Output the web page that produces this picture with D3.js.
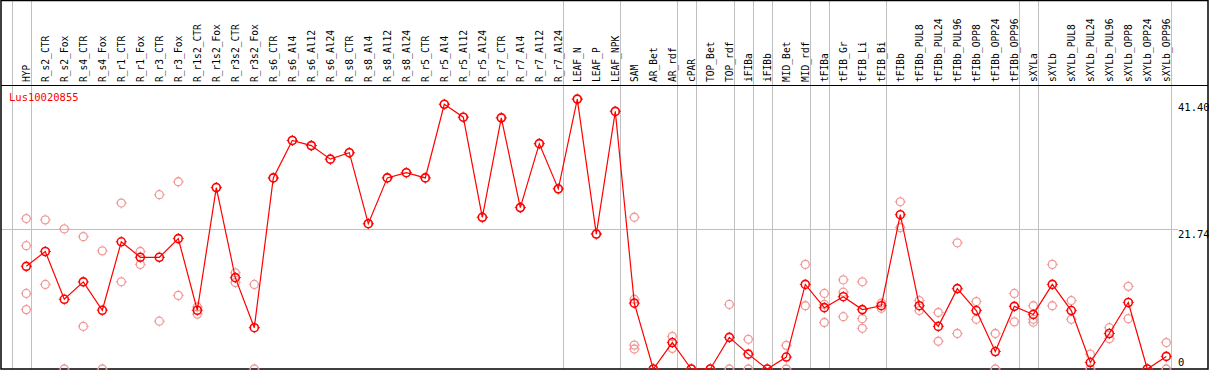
<!doctype html>
<html lang="en">
<head>
  <meta charset="utf-8">
  <script src="https://d3js.org/d3.v7.min.js"></script>
  <style>
    body { margin: 0; background: #fff; }
    text { font-family: "DejaVu Sans Mono", monospace; }
  </style>
</head>
<body>
  <script>
    var width = 1209,
        height = 370;

    var title = "Lus10020855";

    // sample names (one column each)
    var categories = ["HYP","R_s2_CTR","R_s2_Fox","R_s4_CTR","R_s4_Fox","R_r1_CTR","R_r1_Fox",
      "R_r3_CTR","R_r3_Fox","R_r1s2_CTR","R_r1s2_Fox","R_r3s2_CTR","R_r3s2_Fox","R_s6_CTR",
      "R_s6_Al4","R_s6_Al12","R_s6_Al24","R_s8_CTR","R_s8_Al4","R_s8_Al12","R_s8_Al24",
      "R_r5_CTR","R_r5_Al4","R_r5_Al12","R_r5_Al24","R_r7_CTR","R_r7_Al4","R_r7_Al12","R_r7_Al24",
      "LEAF_N","LEAF_P","LEAF_NPK","SAM","AR_Bet","AR_rdf","cPAR","TOP_Bet","TOP_rdf","iFIBa",
      "iFIBb","MID_Bet","MID_rdf","tFIBa","tFIB_Gr","tFIB_Li","tFIB_Bi","tFIBb","tFIBb_PUL8",
      "tFIBb_PUL24","tFIBb_PUL96","tFIBb_OPP8","tFIBb_OPP24","tFIBb_OPP96","sXYLa","sXYLb",
      "sXYLb_PUL8","sXYLb_PUL24","sXYLb_PUL96","sXYLb_OPP8","sXYLb_OPP24","sXYLb_OPP96"];

    // mean expression per sample
    var means = [15.9,18.2,10.8,13.5,9.1,19.7,17.3,17.3,20.2,9.1,28.1,14.15,6.4,29.6,
      35.4,34.6,32.5,33.5,22.5,29.6,30.4,29.6,41.0,39.0,23.5,38.9,25.0,34.9,27.9,
      41.8,20.9,39.9,10.2,0,4.1,0,0,4.9,2.3,0,1.85,13.1,9.5,11.2,9.2,9.8,23.9,
      9.8,6.6,12.45,9.05,2.7,9.7,8.45,13.1,9.05,1.0,5.5,10.3,0,1.95];

    // replicate values per sample
    var replicates = [[23.3,19.1,11.7,9.2],[23.1,13.1],[21.7,0],[20.5,6.6],[18.3,0],[25.7,13.5],
      [18.2,16.2],[27.0,7.4],[29.0,11.4],[9.6,8.5],[28.1],[14.9,13.4],[13.1,0],[29.6],
      [35.4],[34.6],[32.5],[33.5],[22.5],[29.6],[30.4],[29.6],[41.0],[39.0],[23.5],[38.9],[25.0],[34.9],[27.9],
      [41.8],[20.9],[39.9],[23.5,10.8,3.7,3.1],[0],[5.05,3.2],[0],[0],[10.0,0],[4.6,0],[0],[3.66,0],
      [16.2,9.8],[11.7,10.0,7.2],[13.8,11.9,8.1],[13.5,7.8,6.3],[10.2,9.4],[25.9,21.9],
      [10.6,9.05],[8.75,4.3],[19.55,5.5],[10.45,7.7],[5.5,0],[11.7,7.3],[9.8,7.7,7.25],[16.2,9.8],
      [10.6,7.7],[2.3,0],[6.4,4.7],[12.8,7.8],[0],[4.1,0]];

    // vertical separators drawn after these sample indices
    var groupEnds = [-1,0,28,31,34,35,37,38,39,41,42,45,52,53,60];

    var tickValues = [41.40, 21.74, 0];
    var tickLabels = ["41.40", "21.74", "0"];

    var x = d3.scaleLinear()
        .domain([0, categories.length - 1])
        .range([26.3, 1166.3]);

    var y = d3.scaleLinear()
        .domain([0, 41.40])
        .range([369, 101.7]);

    var svg = d3.select("body")
                .append("svg")
                .attr("width", width)
                .attr("height", height);

    // grid: one horizontal line and group separators
    svg.append("line")
        .attr("x1", 1).attr("x2", 1178)
        .attr("y1", Math.round(y(21.74)) + 0.5).attr("y2", Math.round(y(21.74)) + 0.5)
        .attr("stroke", "#c0c0c0");

    svg.selectAll("line.sep")
        .data(groupEnds)
      .enter().append("line")
        .attr("class", "sep")
        .attr("x1", function(d){ return Math.round(x(d + 0.23)) + 0.5; })
        .attr("x2", function(d){ return Math.round(x(d + 0.23)) + 0.5; })
        .attr("y1", 0).attr("y2", 369)
        .attr("stroke", "#c0c0c0");

    // frame + header separator
    svg.append("rect")
        .attr("x", 1).attr("y", 0.5)
        .attr("width", 1207).attr("height", 368.5)
        .attr("fill", "none")
        .attr("stroke", "black")
        .attr("stroke-width", 1.5);
    svg.append("line")
        .attr("x1", 1).attr("x2", 1208)
        .attr("y1", 85.5).attr("y2", 85.5)
        .attr("stroke", "black");

    // column labels
    svg.selectAll("text.cat")
        .data(categories)
      .enter().append("text")
        .attr("class", "cat")
        .attr("transform", function(d, i){ return "translate(" + (x(i) + 3.8) + ",82) rotate(-90)"; })
        .attr("font-size", 9.6)
        .attr("fill", "black")
        .text(function(d){ return d; });

    // right value labels
    svg.selectAll("text.tick")
        .data(tickValues)
      .enter().append("text")
        .attr("class", "tick")
        .attr("x", 1178)
        .attr("y", function(d, i){ return i == 2 ? 366 : y(d) + 9; })
        .attr("font-size", 10.5)
        .attr("fill", "black")
        .text(function(d, i){ return tickLabels[i]; });

    svg.append("text")
        .attr("x", 9)
        .attr("y", 100.5)
        .attr("font-size", 10.5)
        .attr("fill", "red")
        .text(title);

    function marker(g, color, w) {
      g.append("circle")
          .attr("r", 4)
          .attr("fill", "none")
          .attr("stroke", color)
          .attr("stroke-width", w);
      g.append("path")
          .attr("d", "M0,-5.5V-4.5M0,4.5V5.5M-5.5,0H-4.5M4.5,0H5.5")
          .attr("stroke", color)
          .attr("stroke-width", 1);
    }

    // replicates
    var reps = [];
    replicates.forEach(function(arr, i){
      arr.forEach(function(v){ reps.push({i: i, v: v}); });
    });
    svg.selectAll("g.rep")
        .data(reps)
      .enter().append("g")
        .attr("class", "rep")
        .attr("transform", function(d){ return "translate(" + x(d.i) + "," + y(d.v) + ")"; })
        .each(function(){ marker(d3.select(this), "#f09898", 1.3); });

    // mean line
    var line = d3.line()
        .x(function(d, i){ return x(i); })
        .y(function(d){ return y(d); });
    svg.append("path")
        .datum(means)
        .attr("d", line)
        .attr("fill", "none")
        .attr("stroke", "red")
        .attr("stroke-width", 1.2);

    svg.selectAll("g.mean")
        .data(means)
      .enter().append("g")
        .attr("class", "mean")
        .attr("transform", function(d, i){ return "translate(" + x(i) + "," + y(d) + ")"; })
        .each(function(){ marker(d3.select(this), "red", 1.6); });
  </script>
</body>
</html>
